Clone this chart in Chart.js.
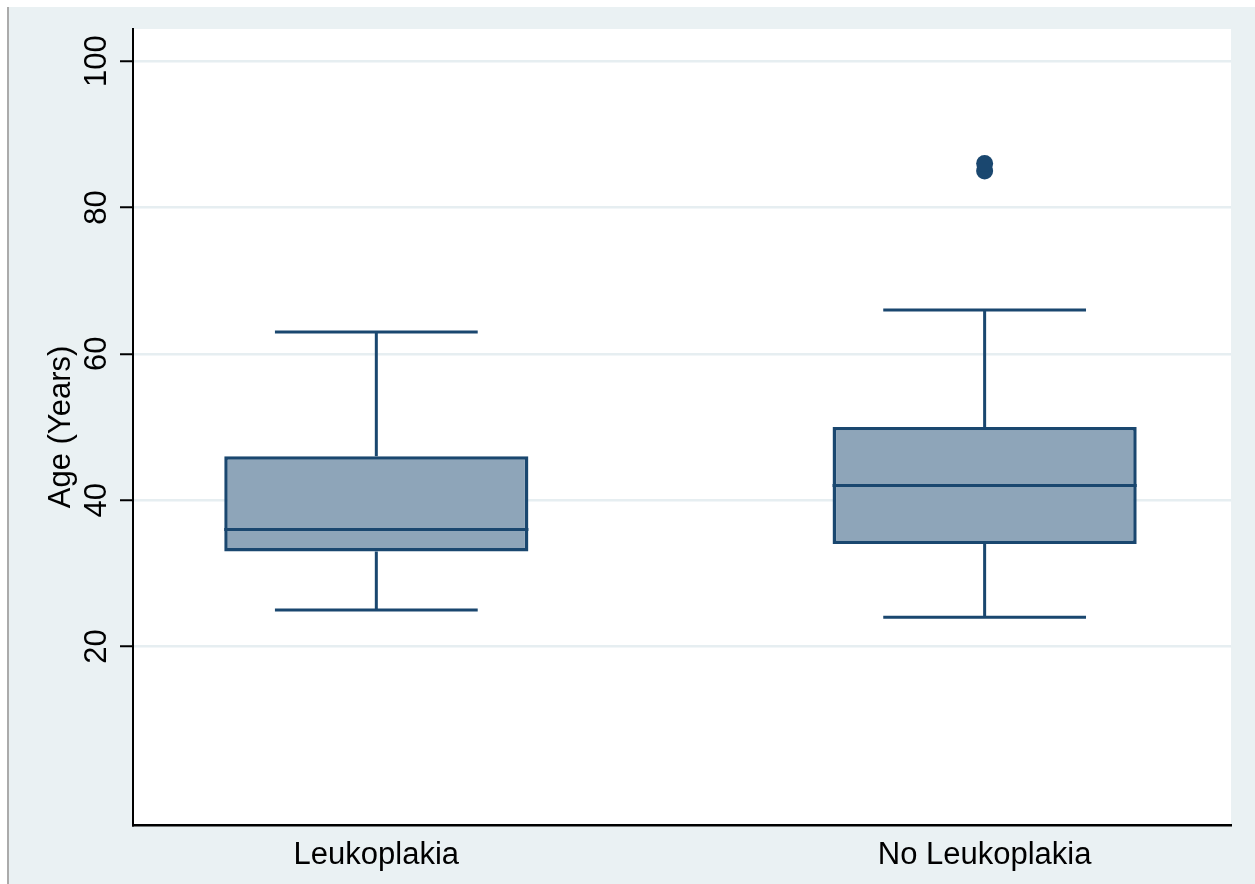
<!DOCTYPE html>
<html>
<head>
<meta charset="utf-8">
<title>Age (Years) by leukoplakia status</title>
<script src="https://cdn.jsdelivr.net/npm/chart.js@4/dist/chart.umd.min.js"></script>
<style>
  html, body { margin: 0; padding: 0; background: #ffffff; }
  canvas { display: block; }
</style>
</head>
<body>
<canvas id="chart" width="1255" height="884"></canvas>
<script>
// Groups and their positions on the x axis
const groups = ['Leukoplakia', 'No Leukoplakia'];
const groupPositions = [1, 2];

// Box plot summaries (years)
const lowerWhisker = [25, 24];
const quartile1 = [33, 34];
const medians = [36, 42];
const quartile3 = [46, 50];
const upperWhisker = [63, 66];

// Outside values: [group position, age]
const outlierGroup = [2, 2];
const outlierAge = [85, 86];

// Y axis
const yTicks = [20, 40, 60, 80, 100];
const yTitle = 'Age (Years)';

const navy = '#1a476f';
const boxFill = '#8ea5b9';
const regionColor = '#eaf1f3';
const gridColor = '#e6eef1';
const FONT = '"Liberation Sans", Arial, sans-serif';

// Whiskers, caps and medians, placed with the chart's scales
const boxParts = {
  id: 'boxParts',
  beforeDatasetsDraw(chart) {
    const { ctx, scales: { x, y } } = chart;
    const bars = chart.getDatasetMeta(0).data;
    ctx.save();
    ctx.strokeStyle = navy;
    ctx.lineWidth = 3;
    ctx.lineCap = 'butt';
    groupPositions.forEach((pos, i) => {
      const cx = x.getPixelForValue(pos);
      const capHalf = bars[i].width / 3;
      const yLo = y.getPixelForValue(lowerWhisker[i]);
      const yQ1 = y.getPixelForValue(quartile1[i]);
      const yQ3 = y.getPixelForValue(quartile3[i]);
      const yHi = y.getPixelForValue(upperWhisker[i]);
      ctx.beginPath();
      ctx.moveTo(cx, yLo); ctx.lineTo(cx, yQ1);
      ctx.moveTo(cx, yQ3); ctx.lineTo(cx, yHi);
      ctx.moveTo(cx - capHalf, yLo); ctx.lineTo(cx + capHalf, yLo);
      ctx.moveTo(cx - capHalf, yHi); ctx.lineTo(cx + capHalf, yHi);
      ctx.stroke();
    });
    ctx.restore();
  },
  afterDatasetsDraw(chart) {
    const { ctx, scales: { y } } = chart;
    const bars = chart.getDatasetMeta(0).data;
    ctx.save();
    ctx.strokeStyle = navy;
    ctx.lineWidth = 3;
    medians.forEach((m, i) => {
      const bar = bars[i];
      const ym = y.getPixelForValue(m);
      ctx.beginPath();
      ctx.moveTo(bar.x - bar.width / 2, ym);
      ctx.lineTo(bar.x + bar.width / 2, ym);
      ctx.stroke();
    });
    ctx.restore();
  }
};

// Graph region background, plot region, rotated y labels and title
const frame = {
  id: 'frame',
  beforeDraw(chart) {
    const { ctx, width, height, chartArea: a } = chart;
    ctx.save();
    ctx.fillStyle = '#ffffff';
    ctx.fillRect(0, 0, width, height);
    ctx.fillStyle = regionColor;
    ctx.fillRect(9, 7, width - 9, height - 7);
    ctx.strokeStyle = '#8f8f8f';
    ctx.lineWidth = 1.5;
    ctx.beginPath();
    ctx.moveTo(8, 7); ctx.lineTo(8, height);
    ctx.stroke();
    ctx.fillStyle = '#ffffff';
    ctx.fillRect(a.left, a.top, a.right - a.left, a.bottom - a.top);
    ctx.restore();
  },
  afterDraw(chart) {
    const { ctx, chartArea: a, scales: { y } } = chart;
    ctx.save();
    ctx.fillStyle = '#000000';
    ctx.font = '31px ' + FONT;
    ctx.textAlign = 'center';
    ctx.textBaseline = 'alphabetic';
    yTicks.forEach(v => {
      ctx.save();
      ctx.translate(a.left - 27, y.getPixelForValue(v));
      ctx.rotate(-Math.PI / 2);
      ctx.fillText(String(v), 0, 0);
      ctx.restore();
    });
    ctx.save();
    ctx.translate(a.left - 63, (a.top + a.bottom) / 2);
    ctx.rotate(-Math.PI / 2);
    ctx.fillText(yTitle, 0, 0);
    ctx.restore();
    ctx.restore();
  }
};

const boxData = groupPositions.map((pos, i) => ({ x: pos, y: [quartile1[i], quartile3[i]] }));
const outlierData = outlierAge.map((v, i) => ({ x: outlierGroup[i], y: v }));

new Chart(document.getElementById('chart'), {
  type: 'bar',
  data: {
    datasets: [
      {
        type: 'bar',
        data: boxData,
        backgroundColor: boxFill,
        borderColor: navy,
        borderWidth: 3.5,
        borderSkipped: false,
        categoryPercentage: 1,
        barPercentage: 0.5
      },
      {
        type: 'scatter',
        data: outlierData,
        backgroundColor: navy,
        borderColor: navy,
        borderWidth: 0,
        pointRadius: 8.5,
        pointHoverRadius: 8.5
      }
    ]
  },
  options: {
    responsive: false,
    animation: false,
    events: [],
    layout: { padding: { top: 29, right: 24, left: 0, bottom: 0 } },
    plugins: { legend: { display: false }, tooltip: { enabled: false } },
    scales: {
      x: {
        type: 'linear',
        offset: false,
        min: 0.6,
        max: 2.405,
        afterBuildTicks(scale) { scale.ticks = groupPositions.map(v => ({ value: v })); },
        afterFit(scale) { scale.height = 59; },
        grid: { display: false, drawTicks: false, offset: false },
        border: { display: true, color: '#000000', width: 2.5 },
        ticks: {
          autoSkip: false,
          maxRotation: 0,
          padding: 12,
          color: '#000000',
          font: { family: FONT, size: 31 },
          callback: (v) => groups[groupPositions.indexOf(v)]
        }
      },
      y: {
        type: 'linear',
        min: -4.4,
        max: 104.4,
        afterBuildTicks(scale) { scale.ticks = yTicks.map(v => ({ value: v })); },
        afterFit(scale) { scale.width = 133; },
        grid: {
          color: gridColor,
          lineWidth: 2.5,
          drawTicks: true,
          tickLength: 13,
          tickColor: '#000000',
          tickWidth: 2
        },
        border: { display: true, color: '#000000', width: 2 },
        ticks: { display: false }
      }
    }
  },
  plugins: [frame, boxParts]
});
</script>
</body>
</html>
